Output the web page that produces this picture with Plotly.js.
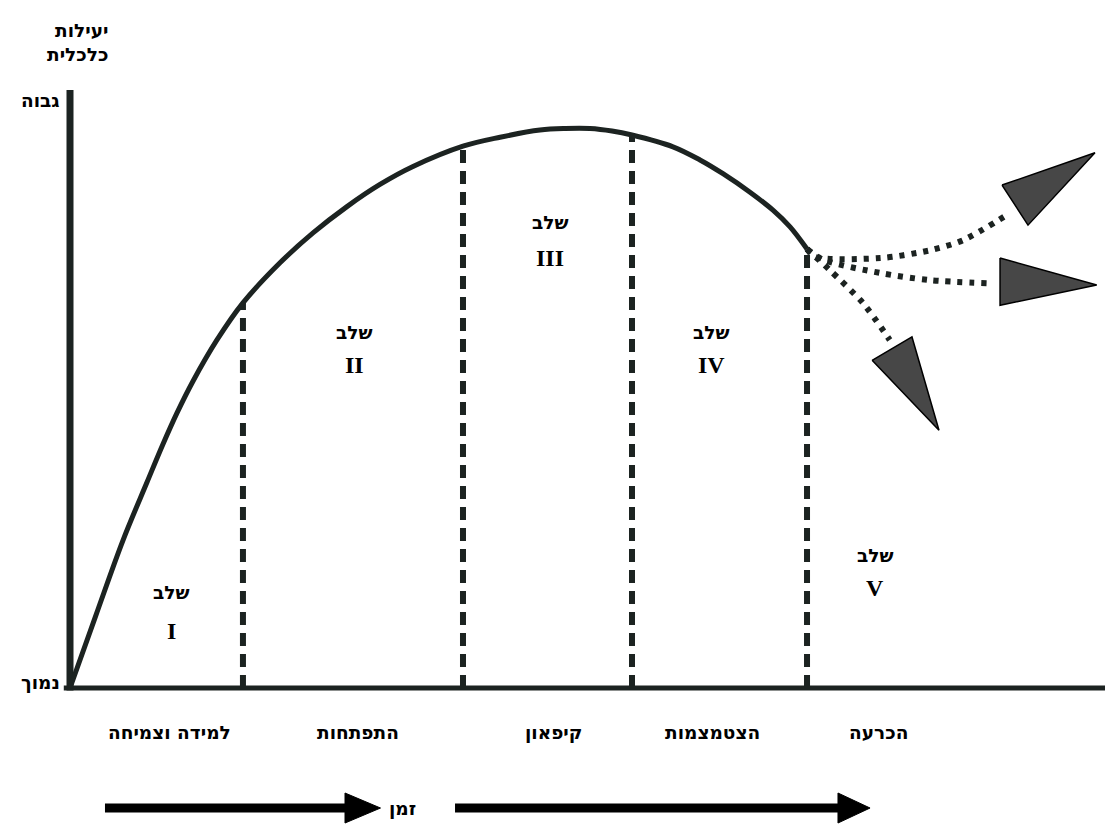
<!DOCTYPE html>
<html>
<head>
<meta charset="utf-8">
<script src="https://cdn.plot.ly/plotly-3.0.1.min.js"></script>
<style>html,body{margin:0;padding:0;background:#fff;}#chart{width:1105px;height:825px;}</style>
</head>
<body>
<div id="chart"></div>
<script>
// Economic efficiency curve (time 0..100, efficiency 0..100)
const curveTime = [0, 2.51, 5.12, 7.44, 8.99, 10.34, 11.88, 14.20, 16.71, 20.29, 23.48, 26.76, 29.95, 33.14, 37.97, 41.55, 45.41, 47.83, 50.24, 52.37, 54.30, 58.26, 60.87, 63.09, 65.70, 67.92, 69.57, 71.21];
const curveEff  = [0, 12.2, 24.7, 34.4, 40.8, 46.0, 51.3, 58.2, 64.4, 71.1, 76.1, 80.5, 84.2, 87.2, 90.6, 92.1, 93.3, 93.56, 93.56, 93.14, 92.47, 90.5, 88.3, 86.0, 82.9, 79.9, 77.1, 73.4];

// Stage boundaries (dashed verticals) and the efficiency where they meet the curve
const stageBounds = [16.71, 37.97, 54.30, 71.21];
const stageTops   = [64.4, 90.6, 92.47, 73.4];

// Stage labels
const stageWord = "שלב";
const stageNums = ["I", "II", "III", "IV", "V"];
const stageLabelX = [9.76, 27.5, 46.4, 62.0, 77.8];
const stageWordY = [16.0, 59.4, 77.9, 59.4, 22.2];
const stageNumY  = [9.5, 54.0, 71.9, 54.0, 16.7];

// Phase names under the time axis
const phaseNames = ["למידה וצמיחה", "התפתחות", "קיפאון", "הצטמצמות", "הכרעה"];
const phaseX = [9.66, 27.8, 46.7, 62.1, 78.1];
const phaseY = -7.36;

// Possible futures after the decline (dotted branches)
const branchUpX  = [71.21, 72.0, 78.3, 83.1, 86.3, 90.8];
const branchUpY  = [73.4, 72.1, 71.9, 73.2, 74.9, 79.4];
const branchMidX = [71.21, 72.8, 78.3, 83.1, 88.6];
const branchMidY = [73.4, 71.6, 69.4, 68.2, 67.7];
const branchLowX = [71.21, 73.4, 76.6, 79.2];
const branchLowY = [73.4, 69.9, 64.4, 58.2];

// Arrowheads of the branches
const headUpX  = [90.05, 99.03, 92.56];
const headUpY  = [84.1, 89.5, 77.4];
const headMidX = [89.86, 99.2, 89.86];
const headMidY = [71.9, 67.4, 64.0];
const headLowX = [77.5, 81.35, 83.96];
const headLowY = [54.8, 58.7, 43.1];

// Axis texts
const yTitle = ["יעילות", "כלכלית"];
const yHigh = "גבוה";
const yLow = "נמוך";
const timeWord = "זמן";

// Time arrows below the chart
const timeArrowY = -20.07;
const timeArrow1X = [3.38, 26.9];
const timeArrow2X = [37.2, 74.5];
const timeHead1X = [26.57, 30.0, 26.57];
const timeHead2X = [74.2, 77.3, 74.2];
const timeHeadY = [-17.56, -20.07, -22.58];

const ink = '#1c2321';
const traces = [];

// axes
traces.push({x: [0, 0], y: [-0.4, 100], mode: 'lines', line: {color: ink, width: 7}, hoverinfo: 'skip'});
traces.push({x: [-0.6, 100], y: [0, 0], mode: 'lines', line: {color: ink, width: 5}, hoverinfo: 'skip'});

// dashed stage boundaries
stageBounds.forEach((b, i) => {
  traces.push({x: [b, b], y: [0, stageTops[i]], mode: 'lines',
    line: {color: ink, width: 6, dash: '13px,8px'}, hoverinfo: 'skip'});
});

// main curve
traces.push({x: curveTime, y: curveEff, mode: 'lines',
  line: {color: ink, width: 5, shape: 'spline', smoothing: 1}, hoverinfo: 'skip'});

// dotted branches
[[branchUpX, branchUpY], [branchMidX, branchMidY], [branchLowX, branchLowY]].forEach(([bx, by]) => {
  traces.push({x: bx, y: by, mode: 'lines',
    line: {color: ink, width: 6, dash: '5px,7px', shape: 'spline', smoothing: 0.8}, hoverinfo: 'skip'});
});

// branch arrowheads
[[headUpX, headUpY], [headMidX, headMidY], [headLowX, headLowY]].forEach(([hx, hy]) => {
  traces.push({x: hx.concat([hx[0]]), y: hy.concat([hy[0]]), mode: 'lines', fill: 'toself',
    fillcolor: '#474747', line: {color: '#000', width: 1.5}, hoverinfo: 'skip'});
});

// time arrows
[timeArrow1X, timeArrow2X].forEach(ax => {
  traces.push({x: ax, y: [timeArrowY, timeArrowY], mode: 'lines', line: {color: '#000', width: 9}, hoverinfo: 'skip'});
});
[timeHead1X, timeHead2X].forEach(hx => {
  traces.push({x: hx.concat([hx[0]]), y: timeHeadY.concat([timeHeadY[0]]), mode: 'lines', fill: 'toself',
    fillcolor: '#000', line: {color: '#000', width: 1}, hoverinfo: 'skip'});
});

const hebFont = {family: '"DejaVu Sans", sans-serif', size: 18.5, color: '#000', weight: 'bold'};
const serifFont = {family: '"Liberation Serif", "Times New Roman", serif', size: 24, color: '#000', weight: 'bold'};
const annotations = [];
function ann(text, x, y, font, xanchor) {
  annotations.push({text: '<b>' + text + '</b>', x: x, y: y, xref: 'x', yref: 'y', showarrow: false,
    font: font, xanchor: xanchor || 'center', yanchor: 'middle'});
}
ann(yTitle[0], 3.9, 110.0, hebFont, 'right');
ann(yTitle[1], 3.9, 105.9, hebFont, 'right');
ann(yHigh, -0.75, 98.3, hebFont, 'right');
ann(yLow, -0.75, 0.9, hebFont, 'right');
stageNums.forEach((n, i) => {
  ann(stageWord, stageLabelX[i], stageWordY[i], hebFont);
  ann(n, stageLabelX[i], stageNumY[i], serifFont);
});
phaseNames.forEach((p, i) => ann(p, phaseX[i], phaseY, hebFont));
ann(timeWord, 32.1, timeArrowY, hebFont);

const layout = {
  width: 1105, height: 825,
  margin: {l: 0, r: 0, t: 0, b: 0},
  paper_bgcolor: '#fff', plot_bgcolor: '#fff',
  showlegend: false,
  xaxis: {range: [-6.763, 100], visible: false, showgrid: false, zeroline: false, fixedrange: true},
  yaxis: {range: [-22.91, 115.05], visible: false, showgrid: false, zeroline: false, fixedrange: true},
  annotations: annotations
};

Plotly.newPlot('chart', traces, layout, {displayModeBar: false, staticPlot: true});
</script>
</body>
</html>
